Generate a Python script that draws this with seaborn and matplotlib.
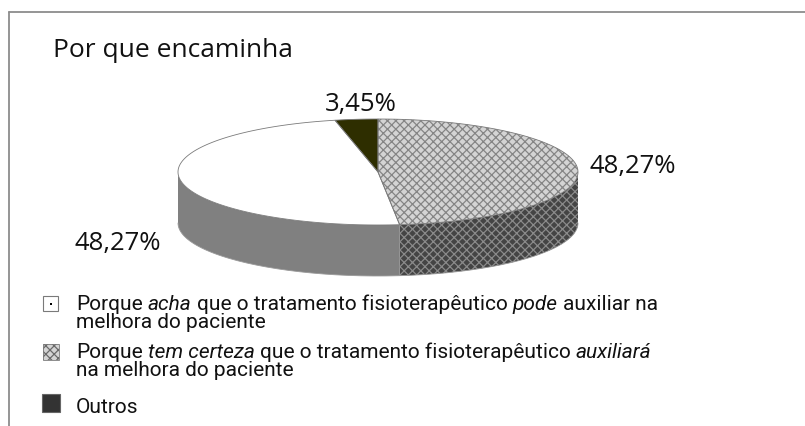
import numpy as np
import matplotlib.pyplot as plt
import seaborn as sns
from matplotlib.patches import Polygon, Rectangle
from matplotlib import font_manager

# dados
categorias = ['Porque acha que o tratamento fisioterapêutico pode auxiliar na melhora do paciente',
              'Porque tem certeza que o tratamento fisioterapêutico auxiliará na melhora do paciente',
              'Outros']
valores = [48.27, 48.27, 3.45]
rotulos = ['48,27%', '48,27%', '3,45%']
titulo = 'Por que encaminha'

# ordem das fatias no sentido horário a partir do topo
ordem = [1, 0, 2]

sns.set_style('white')
fontes = {f.name for f in font_manager.fontManager.ttflist}
fonte_titulo = 'Open Sans' if 'Open Sans' in fontes else 'DejaVu Sans'
fonte_leg = 'Roboto' if 'Roboto' in fontes else 'DejaVu Sans'
plt.rcParams['font.family'] = [fonte_titulo, 'DejaVu Sans']
plt.rcParams['hatch.linewidth'] = 0.9

fig = plt.figure(figsize=(8.05, 4.27), dpi=100)
ax = fig.add_axes([0, 0, 1, 1])
ax.set_xlim(0, 805)
ax.set_ylim(427, 0)
ax.axis('off')

# moldura (só topo e esquerda visíveis)
ax.plot([9, 805], [13, 13], color='#8c8c8c', lw=1.3)
ax.plot([9, 9], [13, 427], color='#8c8c8c', lw=1.3)

ax.text(53, 57, titulo, fontsize=19, va='baseline', ha='left', color='#111111')

# pizza 3D
cx, cy, a, b, prof = 378, 173, 200, 53, 51

estilo_topo = {
    0: dict(fc='white', hatch=None, hc=None),
    1: dict(fc='#d4d4d4', hatch='xxxx', hc='#858585'),
    2: dict(fc='#2e2e00', hatch=None, hc=None),
}
estilo_lado = {
    0: dict(fc='#808080', hatch=None, hc=None),
    1: dict(fc='#444444', hatch='xxxx', hc='#8a8a8a'),
    2: dict(fc='#1e1e00', hatch=None, hc=None),
}


def pt(t, dy=0.0):
    r = np.radians(t)
    return cx + a * np.sin(r), cy - b * np.cos(r) + dy


def desenha(verts, est, z, borda=True):
    ax.add_patch(Polygon(verts, closed=True, fc=est['fc'], ec='none', lw=0, zorder=z))
    if est['hatch']:
        ax.add_patch(Polygon(verts, closed=True, fill=False, hatch=est['hatch'],
                             ec=est['hc'], lw=0, zorder=z + 0.1))
    if borda:
        ax.add_patch(Polygon(verts, closed=True, fill=False, ec='#7a7a7a', lw=0.6, zorder=z + 0.2))


total = sum(valores)
angs = np.cumsum([0] + [valores[i] / total * 360 for i in ordem])

# laterais
for k, i in enumerate(ordem):
    s, e = max(angs[k], 90), min(angs[k + 1], 270)
    if e <= s:
        continue
    tt = np.linspace(s, e, 80)
    topo = [pt(t) for t in tt]
    base = [pt(t, prof) for t in tt[::-1]]
    desenha(topo + base, estilo_lado[i], 1, borda=False)

# contorno inferior
tt = np.linspace(90, 270, 200)
ax.plot(*zip(*[pt(t, prof) for t in tt]), color='#9a9a9a', lw=0.6, zorder=1.5)

# topos
for k, i in enumerate(ordem):
    tt = np.linspace(angs[k], angs[k + 1], 120)
    verts = [(cx, cy)] + [pt(t) for t in tt]
    desenha(verts, estilo_topo[i], 2)

# rótulos
desloc = {0: (-20, 62, 'right', 'center'), 1: (12, -4, 'left', 'center'), 2: (4, -9, 'center', 'baseline')}
for k, i in enumerate(ordem):
    m = (angs[k] + angs[k + 1]) / 2
    x, y = pt(m)
    dx, dy, ha, va = desloc[i]
    ax.text(x + dx, y + dy, rotulos[i], fontsize=18.5, ha=ha, va=va, color='#111111')

# legenda (texto com trechos em itálico)
r = fig.canvas.get_renderer()
kw = dict(fontsize=15, family=[fonte_leg, 'DejaVu Sans'], va='baseline', color='#111111')


def largura(s):
    t = ax.text(0, 0, s, **kw)
    w = t.get_window_extent(r).width
    t.remove()
    return w


esp = largura('a a') - largura('aa')


def linha(x, y, partes):
    for s, st in partes:
        t = ax.text(x, y, s, style=st, **kw)
        x += t.get_window_extent(r).width + esp


linhas = [
    [[('Porque', 'normal'), ('acha', 'italic'), ('que o tratamento fisioterapêutico', 'normal'),
      ('pode', 'italic'), ('auxiliar na', 'normal')],
     [('melhora do paciente', 'normal')]],
    [[('Porque', 'normal'), ('tem certeza', 'italic'), ('que o tratamento fisioterapêutico', 'normal'),
      ('auxiliará', 'italic')],
     [('na melhora do paciente', 'normal')]],
    [[('Outros', 'normal')]],
]
bases = [310, 358, 413]
for i, ls in enumerate(linhas):
    for j, partes in enumerate(ls):
        linha(76, bases[i] + 18 * j, partes)

# marcadores
ax.add_patch(Rectangle((43, 297), 15, 15, fc='white', ec='#7a7a7a', lw=0.8))
ax.add_patch(Rectangle((49.5, 303.5), 2.5, 2.5, fc='black', ec='none'))
ax.add_patch(Rectangle((43, 345), 16, 16, fc='#d4d4d4', ec='none'))
ax.add_patch(Rectangle((43, 345), 16, 16, fill=False, hatch='xxxx', ec='#6a6a6a', lw=0))
ax.add_patch(Rectangle((43, 345), 16, 16, fill=False, ec='#7a7a7a', lw=0.6))
ax.add_patch(Rectangle((42, 395), 18, 18, fc='#333333', ec='#666666', lw=0.8))

fig.savefig('out.png', dpi=100)
